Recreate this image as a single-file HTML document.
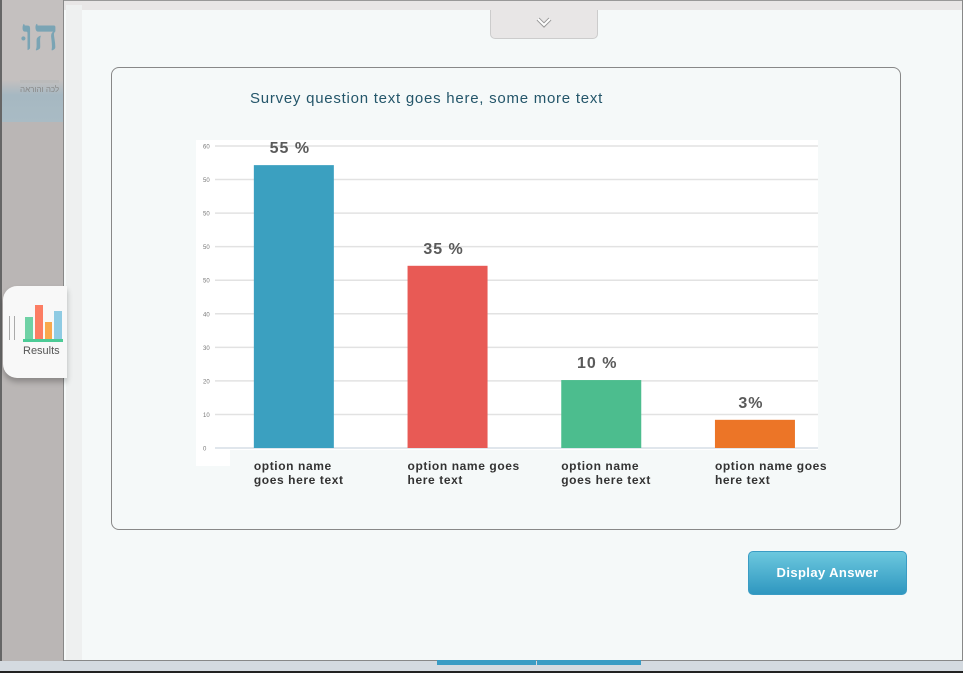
<!DOCTYPE html>
<html><head><meta charset="utf-8">
<style>
*{box-sizing:border-box;margin:0;padding:0}
body{width:963px;height:673px;overflow:hidden;background:#bab6b5;font-family:"Liberation Sans",sans-serif;position:relative}
.abs{position:absolute}
</style></head>
<body>
<div class="abs" style="left:0;top:0;width:64px;height:673px;background:#bab6b5;border-left:2px solid #666"></div>
<div class="abs" style="left:2px;top:0;width:62px;height:122px;background:linear-gradient(#c4c0bf 0,#c4c0bf 80px,#a6b8c2 95px,#a9bbc4 122px)"></div>
<div class="abs" style="left:22px;top:10px;font-size:44px;color:#7aa4b4;font-family:'Liberation Serif',serif;font-weight:bold">הוּ</div>
<div class="abs" style="left:20px;top:80px;font-size:8px;color:#888;border-top:3px solid #bbb;padding-top:2px">לכה והוראה</div>

<div class="abs" style="left:63px;top:0;width:900px;height:661px;background:#f5f9f9;border:1px solid #888;border-top:none"></div>
<div class="abs" style="left:64px;top:0;width:898px;height:10px;background:#e8e6e6;border-top:1px solid #999"></div>
<div class="abs" style="left:66px;top:5px;width:16px;height:655px;background:#eef0f0"></div>
<div class="abs" style="left:490px;top:10px;width:108px;height:29px;background:#e8e6e6;border:1px solid #ccc;border-top:none;border-radius:0 0 5px 5px">
  <svg class="abs" style="left:45px;top:6px" width="16" height="12"><path d="M2 3 L8 9 L14 3" fill="none" stroke="#999" stroke-width="4"/><path d="M2 3 L8 9 L14 3" fill="none" stroke="#fff" stroke-width="2"/></svg>
</div>

<div class="abs" style="left:3px;top:286px;width:64px;height:92px;background:#f8f8f8;border-radius:14px 0 0 14px;box-shadow:0 4px 6px rgba(0,0,0,.25)">
  <div class="abs" style="left:6px;top:30px;width:6px;height:24px;border-left:1px solid #aaa;border-right:1px solid #aaa"></div>
  <div class="abs" style="left:22px;top:31px;width:8px;height:22px;background:#6fd1a5"></div>
  <div class="abs" style="left:32px;top:19px;width:8px;height:34px;background:#fc7d63"></div>
  <div class="abs" style="left:42px;top:36px;width:7px;height:17px;background:#f9a84c"></div>
  <div class="abs" style="left:51px;top:25px;width:8px;height:28px;background:#8fcbe3"></div>
  <div class="abs" style="left:20px;top:53px;width:40px;height:3px;background:#4ccb96"></div>
  <div class="abs" style="left:20px;top:59px;font-size:11px;color:#555">Results</div>
</div>

<div class="abs" style="left:111px;top:67px;width:790px;height:463px;border:1px solid #888;border-radius:8px;background:#f5f9f9"></div>
<div class="abs" style="left:250px;top:90px;font-size:15px;color:#24566a;letter-spacing:.75px">Survey question text goes here, some more text</div>

<svg class="abs" style="left:0;top:0" width="963" height="673">
<rect x="196" y="140" width="622" height="310" fill="#fff"/>
<rect x="196" y="448" width="34" height="18" fill="#fff"/>
<g id="grid"></g><g id="bars"></g><g id="labels"></g>
</svg>

<div class="abs" style="left:748px;top:551px;width:159px;height:44px;border-radius:5px;border:1px solid #3a9cc4;background:linear-gradient(#6cc8de,#2f97c0);color:#fff;font-weight:bold;font-size:13px;text-align:center;line-height:42px;letter-spacing:.4px">Display Answer</div>

<div class="abs" style="left:0;top:661px;width:963px;height:12px;background:#d4dae0;border-bottom:2px solid #222"></div>
<div class="abs" style="left:437px;top:660px;width:99px;height:5px;background:#3a9cc4"></div>
<div class="abs" style="left:537px;top:660px;width:104px;height:5px;background:#3a9cc4"></div>

<script>
const categories=[["option name","goes here text"],["option name goes","here text"],["option name","goes  here text"],["option name goes","here text"]];
const values=[56.2,36.2,13.5,5.6];
const valueLabels=["55 %","35 %","10 %","3%"];
const colors=["#3ba0c0","#e85a55","#4cbd8e","#ec7527"];
const tickLabels=["0","10","20","30","40","50","50","50","50","60"];
const yMax=60;
const NS="http://www.w3.org/2000/svg";
const y=v=>448-v/yMax*302;
const bandStart=217,bandW=153.7,barW=80;
const xc=i=>bandStart+bandW*(i+0.5);
function mk(t,a,p){const e=document.createElementNS(NS,t);for(const k in a)e.setAttribute(k,a[k]);p.appendChild(e);return e;}
const grid=document.getElementById('grid'),bars=document.getElementById('bars'),labels=document.getElementById('labels');
tickLabels.forEach((t,i)=>{
  const yy=448-i*(302/(tickLabels.length-1));
  const l=mk('line',{x1:215,x2:818,y1:yy,y2:yy,stroke:i==0?'#d6dde6':'#e2e2e2','stroke-width':1.5},grid);
  
  
  const tx=mk('text',{x:203,y:yy+2.5,'font-size':6,fill:'#777','font-family':'Liberation Sans, sans-serif'},grid);
  tx.textContent=t;
  
  
});
values.forEach((v,i)=>{
  const r=mk('rect',{x:xc(i)-barW/2,y:y(v),width:barW,height:448-y(v),fill:colors[i]},bars);
  
  
  const t=mk('text',{x:xc(i)-4,y:y(v)-12,'text-anchor':'middle','font-size':16,'font-weight':'bold',fill:'#5a5a5a','letter-spacing':'1','font-family':'Liberation Sans, sans-serif'},labels);
  t.textContent=valueLabels[i];
  
  
  categories[i].forEach((line,j)=>{
    const c=mk('text',{x:xc(i)-40,y:470+j*14,'font-size':12,'font-weight':'bold',fill:'#333','letter-spacing':'0.6','font-family':'Liberation Sans, sans-serif','xml:space':'preserve'},labels);
    c.textContent=line;
    
    
  });
});
</script>
</body></html>
